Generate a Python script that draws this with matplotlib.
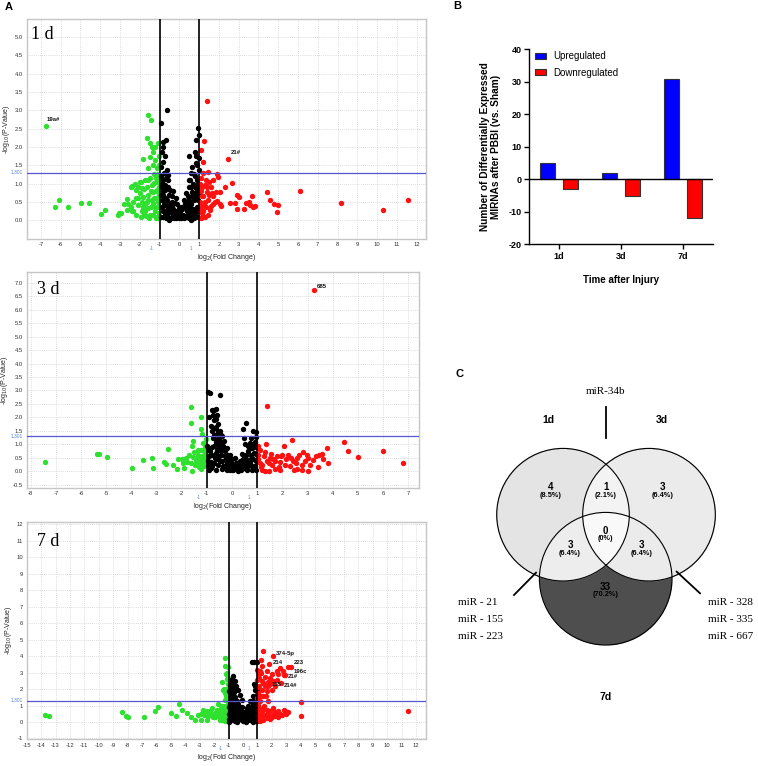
import matplotlib.pyplot as plt
import matplotlib.transforms as mtransforms
import numpy as np
from matplotlib.patches import Circle

plt.rcParams['font.family'] = ['Liberation Sans', 'DejaVu Sans']
plt.rcParams['axes.unicode_minus'] = False

W, H = 758, 766

# ---- panel A: (log2 fold change, -log10 p) ----
d1_green = [
    (-6.76, 2.58), (-6.29, 0.35), (-6.10, 0.55), (-5.62, 0.36), (-4.98, 0.46), (-4.55, 0.47),
    (-3.95, 0.16), (-3.76, 0.28), (-3.12, 0.15), (-2.97, 0.21), (-2.80, 0.45), (-2.63, 0.59),
    (-2.45, 0.37), (-2.33, 0.26), (-2.42, 0.94), (-2.25, 0.98), (-2.08, 0.92), (-1.92, 1.05),
    (-1.86, 1.66), (-1.79, 0.14), (-1.57, 2.87), (-1.44, 2.73), (-1.66, 2.25), (-1.49, 2.12),
    (-1.40, 2.00), (-1.32, 1.87), (-1.49, 1.73), (-1.23, 1.64), (-1.35, 1.51), (-1.57, 1.42),
    (-1.15, 1.42), (-1.27, 1.26), (-1.49, 1.14), (-1.74, 1.10), (-1.99, 1.05), (-2.46, 0.92),
    (-2.17, 0.83), (-1.91, 0.87), (-1.66, 0.92), (-1.40, 0.96), (-1.15, 1.05), (-1.32, 0.78),
    (-1.57, 0.69), (-1.82, 0.64), (-2.08, 0.60), (-2.33, 0.51), (-2.58, 0.45), (-2.67, 0.28),
    (-2.42, 0.24), (-3.04, 0.21), (-2.08, 0.42), (-1.82, 0.37), (-1.57, 0.33), (-1.32, 0.46),
    (-1.15, 0.60), (-1.07, 0.37), (-1.23, 0.24), (-1.49, 0.14), (-1.15, 0.10), (-1.40, 0.55),
    (-1.66, 0.51), (-1.91, 0.24), (-1.69, 0.12), (-1.11, 0.83), (-1.07, 1.14), (-1.29, 1.01),
    (-2.17, 0.14), (-1.05, 0.20), (-1.10, 0.50), (-1.20, 0.05), (-1.05, 0.70), (-1.05, 0.90),
    (-1.10, 1.25), (-1.05, 1.50), (-1.20, 1.15), (-1.30, 0.60), (-1.45, 0.80), (-1.60, 0.55),
    (-1.75, 0.45), (-1.90, 0.50), (-2.00, 0.75), (-2.20, 0.60), (-1.25, 0.35), (-1.35, 0.15),
    (-1.55, 0.05), (-1.75, 0.25), (-1.95, 0.08), (-1.10, 0.05), (-1.20, 0.80), (-1.05, 1.75),
    (-1.10, 2.10), (-1.25, 2.00), (-1.60, 1.10), (-1.80, 0.85), (-1.45, 0.35),
]
d1_black = [
    (-0.64, 3.01), (-0.94, 2.65), (-0.81, 2.14), (-0.68, 2.19), (-0.87, 1.87), (-0.81, 1.60),
    (0.92, 2.51), (0.97, 2.33), (0.83, 2.19), (0.80, 1.87), (1.00, 1.69), (0.86, 1.55),
    (0.64, 1.45), (0.72, 1.26), (0.50, 1.10), (-0.64, 1.37), (-0.56, 1.24), (-0.84, 1.10),
    (-0.72, 0.96), (-0.47, 0.83), (-0.81, 0.69), (-0.64, 0.55), (-0.39, 0.65), (-0.22, 0.46),
    (-0.89, 0.37), (-0.64, 0.28), (-0.39, 0.19), (-0.14, 0.24), (0.11, 0.14), (0.37, 0.24),
    (0.54, 0.37), (0.29, 0.46), (0.45, 0.65), (0.62, 0.78), (0.79, 0.92), (0.88, 1.10),
    (0.72, 0.55), (0.88, 0.37), (0.79, 0.19), (0.06, 0.37), (-0.14, 0.10), (-0.56, 0.10),
    (-0.81, 0.10), (0.40, 0.08), (0.65, 0.10), (0.94, 0.10), (0.23, 0.05), (-0.28, 0.05),
    (-0.03, 0.33), (-0.47, 0.42), (-0.72, 0.83), (-0.56, 1.10), (0.55, 1.10), (0.47, 0.92),
    (0.21, 0.55), (-0.19, 0.60), (-0.93, 1.46), (-0.89, 0.92), (1.00, 1.37), (0.47, 1.74),
    (-0.35, 0.35), (0.00, 0.05), (-0.50, 0.00), (0.60, 0.00), (0.15, 0.30), (-0.75, 0.20),
    (0.70, 0.30), (-0.90, 0.55), (0.95, 0.75), (-0.30, 0.80), (0.35, 0.75), (-0.10, 0.45),
    (-0.95, 1.20), (-0.90, 1.00), (-0.85, 0.80), (-0.95, 0.70), (-0.78, 1.30), (-0.70, 1.15),
    (-0.75, 0.60), (-0.60, 0.90), (-0.55, 0.70), (-0.50, 0.45), (-0.45, 0.30), (-0.60, 0.20),
    (-0.70, 0.05), (-0.85, 0.25), (-0.95, 0.10), (-0.30, 0.30), (-0.25, 0.15), (-0.35, 0.50),
    (-0.40, 0.05), (-0.15, 0.05), (-0.05, 0.15), (0.05, 0.25), (0.10, 0.05), (0.20, 0.15),
    (0.30, 0.10), (0.45, 0.15), (0.50, 0.05), (0.55, 0.25), (0.65, 0.20), (0.75, 0.05),
    (0.85, 0.25), (0.60, 0.45), (0.50, 0.55), (0.40, 0.45), (0.65, 0.65), (0.75, 0.75),
    (0.85, 0.65), (0.90, 0.85), (0.60, 0.90), (0.70, 1.00), (0.80, 1.20), (0.95, 1.00),
    (0.90, 1.50), (0.85, 1.75), (0.60, 1.30), (-0.85, 2.00), (-0.75, 1.75), (0.35, 0.35),
    (-0.10, 0.25), (0.25, 0.40), (-0.65, 0.40), (-0.80, 0.45), (0.95, 0.55), (0.98, 0.30),
]
d1_red = [
    (1.41, 3.25), (1.25, 2.15), (1.11, 1.92), (1.21, 1.60), (1.45, 1.33), (2.48, 1.67),
    (2.65, 1.01), (2.31, 0.90), (1.89, 1.27), (1.97, 1.19), (2.06, 0.78), (1.85, 0.78),
    (1.72, 0.65), (1.89, 0.52), (2.09, 0.39), (2.56, 0.46), (2.81, 0.46), (2.93, 0.70),
    (3.00, 0.63), (2.90, 0.30), (3.29, 0.30), (3.37, 0.46), (3.54, 0.51), (3.67, 0.65),
    (3.57, 0.41), (3.81, 0.40), (3.71, 0.35), (4.42, 0.76), (4.59, 0.54), (4.79, 0.45),
    (5.01, 0.43), (4.96, 0.22), (6.09, 0.80), (8.16, 0.46), (10.31, 0.29), (11.55, 0.55),
    (1.18, 1.28), (1.35, 1.10), (1.13, 0.92), (1.38, 0.78), (1.21, 0.65), (1.47, 0.55),
    (1.25, 0.42), (1.55, 0.28), (1.13, 0.19), (1.30, 0.10), (1.72, 0.45), (1.52, 1.05),
    (1.13, 0.65), (2.06, 0.45), (1.65, 0.74), (1.05, 1.00), (1.10, 1.15), (1.08, 0.80),
    (1.05, 0.50), (1.10, 0.35), (1.08, 0.05), (1.20, 0.25), (1.30, 0.50), (1.35, 0.35),
    (1.40, 0.90), (1.30, 0.95), (1.60, 0.90), (1.70, 1.10), (1.50, 0.70), (1.60, 0.40),
    (1.80, 0.50), (1.45, 0.15), (1.20, 0.10), (1.05, 0.25),
]
d3_green = [
    (-7.44, 0.35), (-5.35, 0.66), (-5.28, 0.66), (-4.98, 0.52), (-3.96, 0.11), (-3.52, 0.41),
    (-3.19, 0.49), (-3.15, 0.12), (-2.70, 0.36), (-2.64, 0.27), (-2.56, 0.82), (-2.36, 0.22),
    (-2.20, 0.09), (-2.13, 0.47), (-2.00, 0.45), (-1.96, 0.31), (-1.89, 0.12), (-1.80, 0.35),
    (-1.73, 0.59), (-1.60, 0.02), (-1.62, 2.37), (-1.63, 1.79), (-1.23, 2.03), (-1.22, 1.58),
    (-1.19, 1.37), (-1.56, 1.12), (-1.60, 0.95), (-1.23, 0.07), (-1.54, 0.52), (-1.40, 0.50),
    (-1.34, 0.62), (-1.14, 0.37), (-1.11, 0.75), (-1.07, 0.90), (-1.20, 0.56), (-1.30, 0.35),
    (-1.47, 0.25), (-1.05, 0.62), (-1.17, 1.06), (-1.27, 0.25), (-1.08, 0.81), (-1.21, 0.44),
    (-1.00, 0.45), (-1.05, 0.30), (-1.25, 0.80), (-1.15, 0.50), (-1.30, 0.15), (-1.45, 0.40),
    (-1.35, 0.80), (-1.10, 0.20), (-1.50, 0.70), (-1.65, 0.30), (-1.85, 0.50), (-1.05, 1.20),
]
d3_black = [
    (-0.95, 2.96), (-0.86, 2.89), (-0.46, 2.82), (-0.80, 2.28), (-0.72, 2.27), (-0.62, 1.93),
    (-0.54, 1.74), (-0.68, 1.62), (-0.46, 1.49), (-0.38, 1.31), (-0.33, 1.12), (-0.75, 1.25),
    (-0.55, 1.00), (-0.22, 0.87), (-0.15, 0.62), (-0.02, 0.44), (0.04, 0.25), (0.17, 0.12),
    (-0.09, 0.06), (-0.29, 0.19), (-0.49, 0.37), (-0.68, 0.50), (-0.88, 0.75), (-0.95, 0.37),
    (-0.82, 0.12), (-0.62, 0.69), (-0.42, 0.75), (0.31, 0.25), (0.44, 0.44), (0.57, 0.62),
    (0.71, 0.87), (0.57, 1.81), (0.42, 1.56), (0.47, 1.25), (0.77, 1.25), (0.95, 1.27),
    (0.84, 1.00), (0.87, 0.69), (0.77, 0.44), (0.64, 0.19), (0.91, 0.19), (0.47, 0.12),
    (0.22, 0.02), (0.10, 0.50), (-0.15, 0.31), (-0.78, 0.19), (-1.00, 0.93), (-0.60, 1.40),
    (-0.50, 1.20), (-0.65, 1.10), (-0.40, 0.90), (-0.55, 0.80), (-0.30, 0.55), (-0.50, 0.55),
    (-0.80, 0.90), (-0.90, 0.55), (-0.70, 0.30), (-0.40, 0.10), (-0.20, 0.05), (0.00, 0.15),
    (0.35, 0.05), (0.60, 0.05), (0.80, 0.05), (0.95, 0.40), (0.60, 0.35), (0.40, 0.65),
    (0.65, 0.95), (0.95, 0.90), (0.85, 1.50), (0.20, 0.30), (-0.10, 0.15), (-0.80, 1.50),
    (-0.60, 2.10), (-0.85, 0.35), (-0.90, 2.00), (-0.85, 1.70), (-0.70, 1.90), (-0.65, 1.65),
    (-0.55, 1.50), (-0.45, 1.35), (-0.70, 1.35), (-0.60, 1.20), (-0.40, 1.10), (-0.50, 0.95),
    (-0.35, 0.95), (-0.70, 0.95), (-0.60, 0.80), (-0.30, 0.75), (-0.45, 0.60), (-0.25, 0.45),
    (-0.40, 0.40), (-0.60, 0.45), (-0.80, 0.60), (-0.90, 0.80), (-0.95, 0.20), (-0.90, 0.05),
    (-0.65, 0.05), (-0.55, 0.25), (-0.35, 0.20), (-0.15, 0.45), (-0.05, 0.30), (0.05, 0.05),
    (0.15, 0.30), (0.25, 0.15), (0.40, 0.30), (0.50, 0.20), (0.55, 0.45), (0.70, 0.30),
    (0.80, 0.20), (0.95, 0.05), (0.75, 0.60), (0.85, 0.45), (0.95, 0.65), (0.65, 0.75),
    (0.80, 0.85), (0.90, 1.10), (0.95, 1.45), (0.70, 1.05), (0.50, 1.00), (-0.75, 2.10),
    (-0.65, 2.30), (-0.20, 0.30), (0.30, 0.40), (-0.10, 0.60),
]
d3_red = [
    (3.26, 6.74), (1.39, 2.42), (1.05, 0.93), (1.34, 1.01), (1.03, 0.62), (1.25, 0.56),
    (1.38, 0.37), (1.51, 0.50), (1.64, 0.44), (1.77, 0.56), (1.31, 0.02), (1.48, 0.02),
    (1.91, 0.04), (2.07, 0.93), (2.37, 1.16), (2.24, 0.62), (2.15, 0.44), (2.44, 0.37),
    (2.57, 0.50), (2.30, 0.19), (2.77, 0.25), (2.77, 0.06), (2.81, 0.73), (2.97, 0.62),
    (3.03, 0.50), (3.21, 0.41), (3.00, 0.02), (3.56, 0.66), (3.60, 0.47), (3.76, 0.87),
    (3.83, 0.31), (4.45, 1.07), (4.62, 0.75), (5.02, 0.54), (6.00, 0.75), (6.80, 0.32),
    (1.10, 0.30), (1.15, 0.15), (1.60, 0.25), (1.90, 0.35), (2.00, 0.60), (1.70, 0.10),
    (2.60, 0.10), (1.05, 0.45), (1.10, 0.80), (1.20, 0.25), (1.30, 0.70), (1.45, 0.30),
    (1.55, 0.65), (1.70, 0.40), (1.85, 0.15), (1.95, 0.55), (2.10, 0.25), (2.35, 0.50),
    (2.55, 0.30), (2.65, 0.60), (2.90, 0.40), (3.10, 0.25), (3.35, 0.55), (3.45, 0.60),
    (1.20, 0.05), (2.45, 0.05), (3.40, 0.15),
]
d7_green = [
    (-13.70, 0.42), (-13.44, 0.34), (-8.38, 0.59), (-8.12, 0.34), (-7.98, 0.30), (-6.89, 0.30),
    (-6.13, 0.67), (-5.92, 0.89), (-5.02, 0.55), (-4.65, 0.34), (-4.44, 1.09), (-4.23, 0.71),
    (-3.91, 0.55), (-3.61, 0.30), (-3.10, 0.44), (-2.91, 0.14), (-2.75, 0.71), (-2.59, 0.51),
    (-2.52, 0.65), (-2.40, 0.38), (-2.47, 0.10), (-2.15, 0.85), (-1.94, 0.55), (-1.82, 0.75),
    (-1.71, 1.11), (-1.59, 0.34), (-1.52, 0.95), (-1.41, 0.65), (-1.31, 0.44), (-1.24, 1.35),
    (-1.18, 1.56), (-1.13, 1.96), (-1.06, 2.32), (-1.36, 0.14), (-2.06, 0.30), (-1.22, 3.88),
    (-1.22, 3.37), (-1.04, 3.31), (-1.45, 2.40), (-1.13, 2.61), (-1.31, 2.00), (-1.36, 1.96),
    (-1.24, 1.75), (-1.08, 2.00), (-1.00, 1.55), (-1.13, 1.35), (-1.59, 0.74), (-1.82, 0.54),
    (-2.06, 0.34), (-1.36, 0.95), (-1.24, 0.54), (-1.13, 0.24), (-1.47, 0.14), (-2.29, 0.64),
    (-2.52, 0.44), (-1.05, 1.10), (-1.10, 0.80), (-1.05, 0.50), (-1.15, 0.60), (-1.20, 0.95),
    (-1.30, 0.75), (-1.05, 0.15), (-1.25, 0.05), (-1.50, 0.50), (-1.65, 0.60), (-1.75, 0.35),
    (-1.95, 0.30), (-2.20, 0.45), (-1.40, 0.25), (-1.60, 0.15), (-2.70, 0.45), (-2.90, 0.50),
    (-3.30, 0.15), (-1.05, 2.70), (-1.15, 2.90), (-1.10, 3.00),
]
d7_black = [
    (0.61, 3.63), (0.77, 3.67), (0.94, 3.67), (-0.67, 2.80), (-0.78, 2.60), (-0.55, 2.46),
    (-0.48, 2.16), (-0.32, 1.96), (-0.20, 1.65), (-0.09, 1.35), (-0.90, 2.26), (-0.85, 1.75),
    (-0.72, 1.45), (-0.55, 1.15), (-0.44, 0.85), (-0.20, 0.64), (0.03, 0.44), (0.26, 0.24),
    (0.49, 0.14), (0.15, 0.04), (-0.32, 0.14), (-0.78, 0.24), (-0.90, 0.64), (-0.67, 0.44),
    (0.72, 0.44), (0.84, 0.85), (0.90, 1.25), (0.94, 1.65), (0.99, 2.06), (0.84, 1.96),
    (0.68, 1.55), (0.49, 1.25), (0.38, 0.95), (0.61, 0.74), (0.84, 0.14), (-0.55, 0.04),
    (-0.09, 0.34), (0.49, 0.64), (0.26, 0.85), (-0.78, 1.05), (-0.44, 0.44), (0.94, 0.44),
    (-0.94, 0.00), (0.72, 0.00), (-0.60, 0.60), (0.10, 0.60), (-0.10, 0.90), (0.60, 1.00),
    (-0.90, 1.30), (-0.40, 0.00), (0.30, 0.50), (-0.95, 0.90), (0.20, 0.00), (0.50, 0.30),
    (-0.60, 1.80), (0.75, 2.30), (-0.95, 1.90), (-0.85, 2.10), (-0.70, 2.20), (-0.75, 2.50),
    (-0.60, 2.00), (-0.70, 1.70), (-0.55, 1.50), (-0.45, 1.30), (-0.80, 1.50), (-0.65, 1.25),
    (-0.35, 1.10), (-0.25, 0.90), (-0.60, 0.90), (-0.75, 0.75), (-0.95, 0.50), (-0.85, 0.35),
    (-0.95, 0.20), (-0.70, 0.10), (-0.50, 0.25), (-0.35, 0.50), (-0.15, 0.20), (0.00, 0.05),
    (0.05, 0.25), (0.35, 0.10), (0.40, 0.35), (0.60, 0.10), (0.65, 0.50), (0.80, 0.30),
    (0.95, 0.05), (0.80, 0.60), (0.95, 0.80), (0.70, 0.90), (0.55, 0.85), (0.80, 1.10),
    (0.95, 1.05), (0.75, 1.35), (0.90, 1.45), (0.95, 1.90), (0.85, 2.20), (0.60, 1.20),
    (-0.20, 0.35), (0.15, 0.40), (-0.05, 0.60), (0.30, 0.70), (-0.40, 0.75), (0.10, 0.20),
    (-0.85, 0.85), (-0.90, 1.10),
]
d7_red = [
    (1.37, 4.28), (2.11, 3.98), (1.23, 3.74), (1.83, 3.52), (2.58, 3.27), (3.15, 3.31),
    (3.31, 3.31), (2.74, 3.11), (2.92, 2.83), (2.62, 2.36), (1.76, 2.40), (2.87, 2.87),
    (2.34, 3.07), (1.65, 3.07), (1.53, 2.76), (1.88, 2.66), (2.11, 2.46), (2.34, 2.56),
    (1.23, 2.97), (1.13, 2.66), (1.41, 2.36), (1.76, 2.16), (1.99, 1.96), (1.65, 1.86),
    (1.30, 1.96), (1.13, 2.16), (1.06, 1.75), (1.41, 1.55), (1.18, 1.25), (1.48, 0.95),
    (2.11, 0.85), (4.05, 1.21), (4.05, 0.34), (1.13, 0.85), (1.30, 0.64), (1.65, 0.74),
    (1.88, 0.64), (2.23, 0.58), (2.46, 0.64), (2.81, 0.74), (2.92, 0.64), (1.06, 0.44),
    (1.41, 0.38), (1.76, 0.44), (2.11, 0.44), (2.34, 0.54), (2.58, 0.50), (1.02, 0.14),
    (1.18, 0.04), (1.41, 0.14), (1.65, 0.24), (1.88, 0.30), (1.06, 1.05), (1.00, 1.45),
    (1.00, 2.56), (1.30, 3.37), (1.00, 3.17), (11.42, 0.64), (1.05, 0.70), (1.10, 0.30),
    (1.25, 0.50), (1.35, 0.80), (1.50, 0.25), (1.55, 0.45), (1.70, 0.60), (1.85, 0.20),
    (2.00, 0.30), (2.20, 0.35), (2.45, 0.30), (2.70, 0.45), (2.95, 0.50), (3.10, 0.60),
    (1.05, 2.10), (1.10, 2.90), (1.20, 3.10), (1.35, 2.50), (1.50, 2.20), (1.60, 1.60),
    (1.75, 1.25), (1.90, 2.30), (2.20, 2.20), (2.45, 2.90), (2.00, 2.90), (1.15, 1.55),
]
# labelled miRNAs: (text, x, y) of the label's left edge
d1_notes = [('19a#', -6.71, 2.76), ('21#', 2.60, 1.84)]
d3_notes = [('685', 3.37, 6.85)]
d7_notes = [('374-5p', 2.30, 4.16), ('214', 2.07, 3.59), ('223', 3.50, 3.59),
            ('196c', 3.50, 3.07), ('21#', 3.08, 2.75), ('155', 2.00, 2.30), ('214#', 2.81, 2.24)]

# ---- panel B ----
days = ['1d', '3d', '7d']
upregulated = [5, 2, 31]
downregulated = [-3, -5, -12]

# ---- panel C: Venn region counts ----
venn_regions = ['1d', '1d&3d', '3d', '1d&7d', 'all', '3d&7d', '7d']
venn_counts = [4, 1, 3, 3, 0, 3, 33]
venn_pcts = ['8.5%', '2.1%', '6.4%', '6.4%', '0%', '6.4%', '70.2%']
mir_top = ['miR-34b']
mir_left = ['miR - 21', 'miR - 155', 'miR - 223']
mir_right = ['miR - 328', 'miR - 335', 'miR - 667']

GREEN = '#2fe02f'
RED = '#ff1111'
BLUE_LINE = '#5656d4'
BLUE_TXT = '#5585d8'

fig = plt.figure(figsize=(W / 100, H / 100), dpi=100)


def px_axes(left, top, right, bottom):
    return fig.add_axes([left / W, 1 - bottom / H, (right - left) / W, (bottom - top) / H])


def volcano(ax, green, black, red, xlim, ylim, yticks, yfmt, tag, tag_pos, notes):
    for pts, col in ((green, GREEN), (black, 'black'), (red, RED)):
        xs, ys = np.array(pts).T
        ax.scatter(xs, ys, s=15, color=col, linewidths=0, zorder=3)
    ax.axvline(-1, color='black', lw=1.2, zorder=4)
    ax.axvline(1, color='black', lw=1.2, zorder=4)
    ax.axhline(1.301, color=BLUE_LINE, lw=0.9, zorder=4)
    ax.set_xlim(*xlim)
    ax.set_ylim(*ylim)
    xt = np.arange(np.ceil(xlim[0]), np.floor(xlim[1]) + 1)
    ax.set_xticks(xt)
    ax.set_xticklabels([f'{int(v)}' for v in xt])
    ax.set_yticks(yticks)
    ax.set_yticklabels([yfmt.format(v) for v in yticks])
    ax.grid(True, ls=(0, (1, 1.5)), color='#d0d0d0', lw=0.6)
    ax.set_axisbelow(True)
    ax.tick_params(length=0, labelsize=4.2, labelcolor='#333333', pad=2.5)
    for s in ax.spines.values():
        s.set_color('#c6c6c6')
        s.set_linewidth(1.0)
    ax.set_xlabel('log$_2$(Fold Change)', fontsize=5, labelpad=3, color='#222222')
    ax.set_ylabel('-log$_{10}$(P-Value)', fontsize=5, labelpad=2, color='#222222')
    ax.text(tag_pos[0], tag_pos[1], tag, transform=ax.transAxes, family=['Liberation Serif'],
            fontsize=13, va='top', ha='left')
    bx = mtransforms.blended_transform_factory(ax.transData, ax.transAxes)
    for v, s in ((-1, '-1'), (1, '1')):
        ax.annotate(s, xy=(v, 0), xycoords=bx, xytext=(-8, -9.5), textcoords='offset pixels',
                    fontsize=3.3, color=BLUE_TXT, ha='center', va='center')
    by = mtransforms.blended_transform_factory(ax.transAxes, ax.transData)
    ax.annotate('1.301', xy=(0, 1.301), xycoords=by, xytext=(-4, 0), textcoords='offset pixels',
                fontsize=3.5, color=BLUE_TXT, ha='right', va='center')
    for s, x, y in notes:
        ax.text(x, y, s, fontsize=4.3, fontweight='bold', color='#111111', ha='left', va='center', zorder=5)


ax1 = px_axes(26.7, 19.3, 426, 239)
volcano(ax1, d1_green, d1_black, d1_red, (-7.72, 12.47), (-0.51, 5.48),
        np.arange(0, 5.01, 0.5), '{:.1f}', '1 d', (0.012, 0.97), d1_notes)

ax3 = px_axes(26.7, 271.7, 419.3, 488)
volcano(ax3, d3_green, d3_black, d3_red, (-8.16, 7.44), (-0.62, 7.41),
        np.arange(-0.5, 7.01, 0.5), '{:.1f}', '3 d', (0.027, 0.955), d3_notes)

ax7 = px_axes(26.7, 522.3, 425.7, 739.3)
volcano(ax7, d7_green, d7_black, d7_red, (-15.0, 12.67), (-1.05, 12.12),
        np.arange(-1, 12.1, 1), '{:.0f}', '7 d', (0.025, 0.95), d7_notes)

# ---- panel B: bar chart ----
axb = px_axes(529.3, 49.3, 713.3, 244.3)
xpos = np.arange(len(days))
axb.bar(xpos - 0.188, upregulated, width=0.25, color='#0000ff', edgecolor='#333333', lw=0.8,
        label='Upregulated', zorder=3)
axb.bar(xpos + 0.188, downregulated, width=0.25, color='#ff0000', edgecolor='#333333', lw=0.8,
        label='Downregulated', zorder=3)
axb.axhline(0, color='black', lw=1.0, zorder=4)
axb.set_xlim(-0.48, 2.49)
axb.set_ylim(-20, 40)
axb.set_yticks(range(-20, 41, 10))
axb.set_xticks(xpos)
axb.set_xticklabels(days)
for lab in axb.get_xticklabels() + axb.get_yticklabels():
    lab.set_fontweight('bold')
axb.tick_params(labelsize=6.5, length=3.5, width=1, pad=2)
axb.spines['top'].set_visible(False)
axb.spines['right'].set_visible(False)
axb.spines['left'].set_linewidth(1)
axb.spines['bottom'].set_linewidth(1)
axb.set_ylabel('Number of Differentially Expressed\nMIRNAs after PBBI (vs. Sham)',
               fontsize=7.3, fontweight='bold', linespacing=1.15)
axb.yaxis.set_label_coords(-0.152, 0.5)
axb.set_xlabel('Time after Injury', fontsize=7, fontweight='bold')
axb.xaxis.set_label_coords(0.5, -0.16)
axb.legend(loc='upper left', bbox_to_anchor=(0.03, 0.99), frameon=False, fontsize=7,
           handlelength=1.2, handleheight=0.55, handletextpad=0.7, labelspacing=0.65,
           borderpad=0, borderaxespad=0)

# ---- overlay in figure pixels: panel letters and the Venn diagram ----
ov = fig.add_axes([0, 0, 1, 1])
ov.set_xlim(0, W)
ov.set_ylim(H, 0)
ov.axis('off')
ov.patch.set_alpha(0)

for s, x, y in (('A', 5, 7), ('B', 453, 6), ('C', 455, 374)):
    ov.text(x, y, s, fontsize=8, fontweight='bold', ha='left', va='center')

centers = {'1d': (563.0, 514.7), '3d': (649.0, 514.7), '7d': (605.7, 578.7)}
rad = 66.3
gx, gy = np.meshgrid(np.arange(490, 722, 0.5), np.arange(440, 650, 0.5))
inside = {k: (gx - c[0]) ** 2 + (gy - c[1]) ** 2 <= rad ** 2 for k, c in centers.items()}
shade = {
    '1d': '#e4e4e4', '3d': '#ebebeb', '7d': '#4e4e4e', '1d&3d': '#f4f4f4',
    '1d&7d': '#ededed', '3d&7d': '#ececec', 'all': '#f9f9f9',
}
rgba = np.zeros(gx.shape + (4,))
a, b, c = inside['1d'], inside['3d'], inside['7d']
masks = {
    '1d': a & ~b & ~c, '3d': b & ~a & ~c, '7d': c & ~a & ~b, '1d&3d': a & b & ~c,
    '1d&7d': a & c & ~b, '3d&7d': b & c & ~a, 'all': a & b & c,
}
for k, m in masks.items():
    h = shade[k].lstrip('#')
    rgba[m] = [int(h[i:i + 2], 16) / 255 for i in (0, 2, 4)] + [1.0]
ov.imshow(rgba, extent=(490, 722, 650, 440), origin='upper', interpolation='bilinear', aspect='auto')
for cx, cy in centers.values():
    ov.add_patch(Circle((cx, cy), rad, fill=False, edgecolor='black', lw=0.8))
ov.set_xlim(0, W)
ov.set_ylim(H, 0)

region_xy = {
    '1d': (550.3, 490), '1d&3d': (605.7, 490), '3d': (662.7, 490),
    '1d&7d': (570.0, 548), 'all': (605.7, 533), '3d&7d': (641.7, 548), '7d': (605.7, 589),
}
for k, n, p in zip(venn_regions, venn_counts, venn_pcts):
    x, y = region_xy[k]
    ov.text(x, y - 2.5, str(n), fontsize=7, fontweight='bold', ha='center', va='center')
    ov.text(x, y + 5.5, f'({p})', fontsize=5.3, fontweight='bold', ha='center', va='center')

ov.text(548.3, 420, '1d', fontsize=7.5, fontweight='bold', ha='center', va='center')
ov.text(661.7, 420, '3d', fontsize=7.5, fontweight='bold', ha='center', va='center')
ov.text(605.7, 697, '7d', fontsize=7.5, fontweight='bold', ha='center', va='center')

serif = ['Liberation Serif', 'DejaVu Serif']
ov.text(605.7, 392, mir_top[0], family=serif, fontsize=8, ha='center', va='center')
ov.plot([605.7, 605.7], [406.7, 438.3], color='black', lw=1.3)
ov.plot([514, 536], [595, 572.7], color='black', lw=1.3)
ov.plot([676.7, 700], [571.7, 593.3], color='black', lw=1.3)
for i, (ls, rs) in enumerate(zip(mir_left, mir_right)):
    ov.text(458.3, 602.7 + i * 16.7, ls, family=serif, fontsize=8, ha='left', va='center')
    ov.text(708.3, 602.7 + i * 16.7, rs, family=serif, fontsize=8, ha='left', va='center')

fig.savefig('out.png', dpi=100)
